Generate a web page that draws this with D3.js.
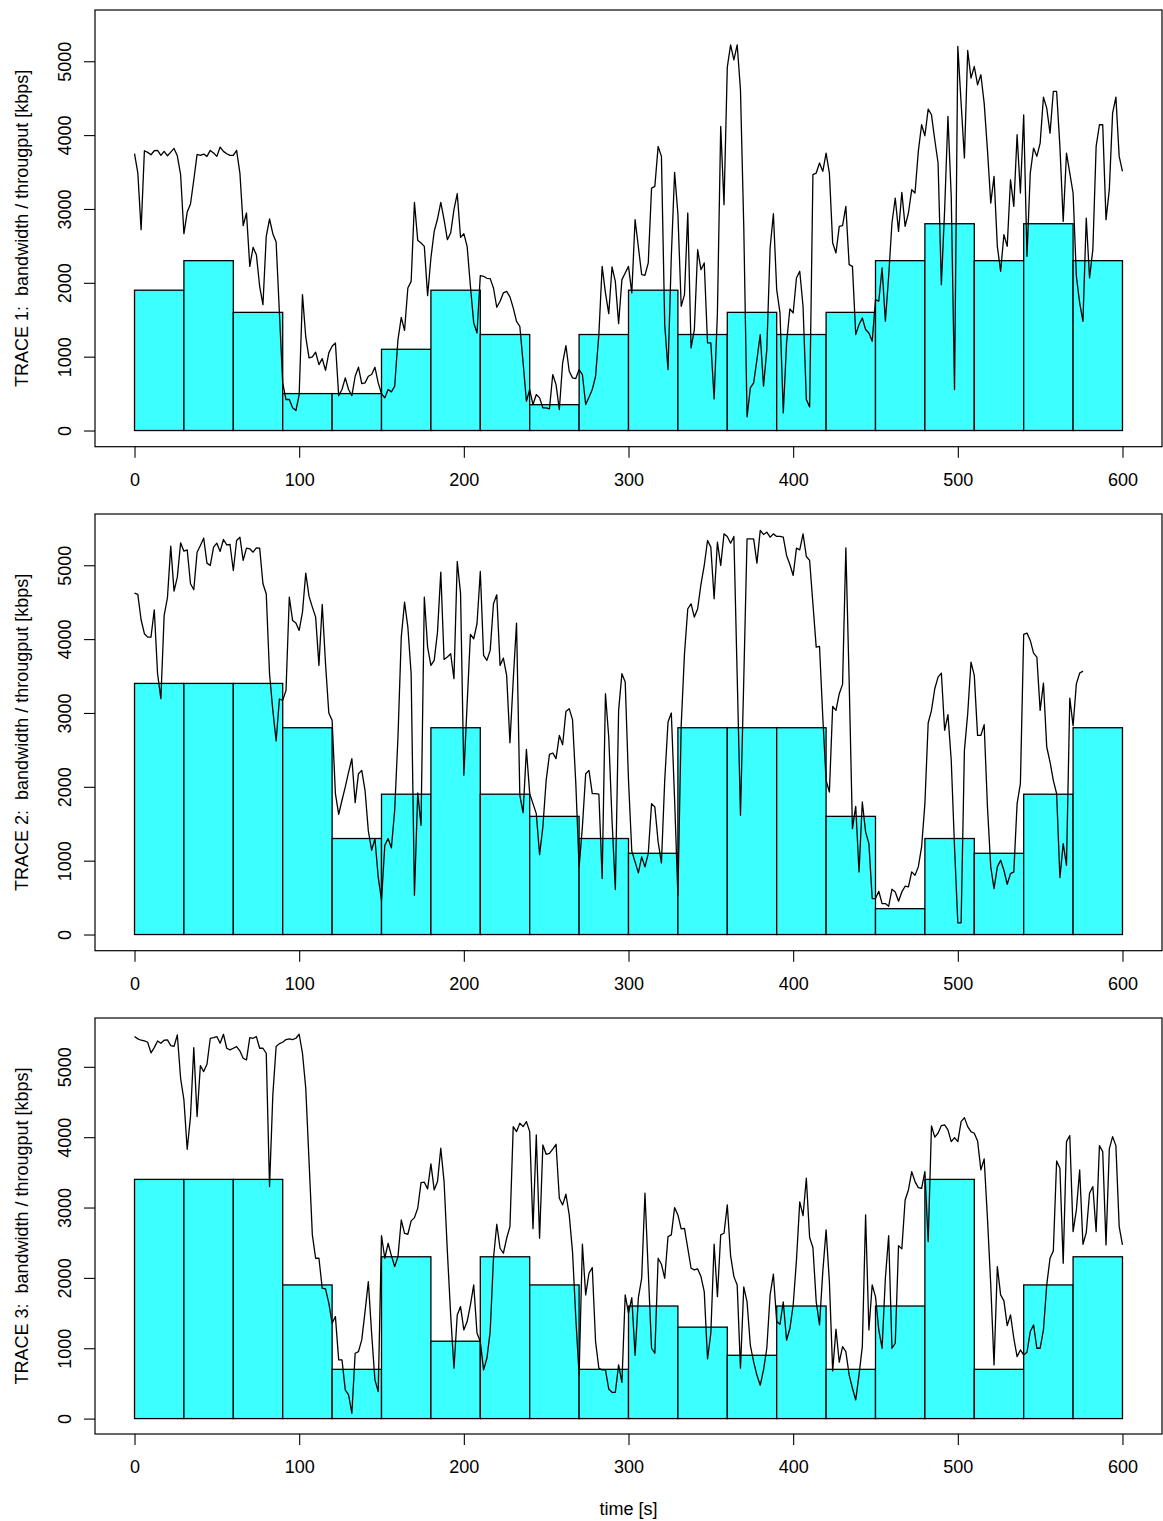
<!DOCTYPE html>
<html><head><meta charset="utf-8">
<script src="https://cdn.jsdelivr.net/npm/d3@7/dist/d3.min.js"></script>
<style>
body{margin:0;background:#fff}
svg{display:block}
text{font-family:"Liberation Sans",Arial,Helvetica,sans-serif;fill:#000}
</style>
</head><body>
<svg id="chart" width="1163" height="1521"></svg>
<script>
// ---------------- DATA ----------------
const segmentStart = [0,30,60,90,120,150,180,210,240,270,300,330,360,390,420,450,480,510,540,570];
const segmentDuration = 30;
const sampleInterval = 2; // seconds between throughput samples

const trace1Bitrate = [1900,2300,1600,500,500,1100,1900,1300,350,1300,1900,1300,1600,1300,1600,2300,2800,2300,2800,2300];
const trace2Bitrate = [3400,3400,3400,2800,1300,1900,2800,1900,1600,1300,1100,2800,2800,2800,1600,350,1300,1100,1900,2800];
const trace3Bitrate = [3400,3400,3400,1900,700,2300,1100,2300,1900,700,1600,1300,900,1600,700,1600,3400,700,1900,2300];

const trace1Throughput = [
3750,3490,2720,3788,3766,3734,3788,3793,3725,3780,
3720,3770,3820,3720,3464,2665,2958,3067,3396,3739,
3725,3743,3712,3793,3757,3712,3838,3780,3748,3725,
3725,3793,3486,2774,2945,2223,2480,2381,1953,1705,
2629,2864,2665,2553,1592,645,420,420,307,270,
487,1840,1267,983,997,1060,893,974,816,1051,
1141,1186,473,555,712,555,473,735,857,636,
645,735,758,857,645,500,442,555,523,600,
1231,1533,1357,1930,2020,3089,2575,2539,2494,1827,
2336,2697,2864,3089,2855,2584,2674,2990,
3207,2616,2665,2494,1953,1457,1321,2097,2088,2061,
2057,1930,1669,1750,1863,1885,1809,1660,1479,1412,
916,397,555,352,487,442,307,307,293,758,
622,284,916,1150,803,713,704,825,758,
352,450,555,735,1299,2223,1863,1583,2214,2020,
1448,2043,2133,2223,1863,2855,2485,2111,2102,2269,
3283,3306,3847,3712,1434,825,2359,3495,2936,1682,
1840,2945,1118,1367,2449,2178,2269,1186,1186,428,
1592,4118,3058,4920,5223,5020,5223,4614,2765,185,
577,645,961,1299,600,1096,2471,2936,1908,1592,
239,1186,1646,1592,2066,2156,
1682,419,320,3464,3486,3622,3509,3757,3486,2539,
2404,2765,2774,3035,2246,2223,1299,1434,1524,1367,
1321,1209,1772,1750,2201,1479,2088,2810,3148,2697,
3225,2765,2945,3261,3216,3779,4140,3991,4352,4275,
3937,3622,1975,2990,4253,3171,555,5200,4433,3689,
5146,4772,4929,4681,4817,
4433,3800,3080,3441,2494,2156,2652,2494,3396,3035,
4005,3216,4275,2359,3486,3824,3712,3892,4514,4366,
4027,4591,4591,3847,2832,3757,3486,3216,2088,1727,
1479,2877,2066,2449,3847,4140,4140,2855,3261,4298,
4514,3712,3509];

const trace2Throughput = [
4623,4605,4262,4073,4027,4027,4397,3531,3193,4321,
4560,5259,4650,4839,5304,5191,5209,4749,4668,5177,
5268,5367,5029,4997,5245,5299,5187,5349,5277,5281,
4929,5335,5380,5065,5232,5223,5177,5236,5232,4749,
4614,3531,3035,2620,3189,3171,3306,4569,4253,4217,
4118,4366,4893,4578,4433,4298,3644,4469,3667,2999,
2900,1908,1628,1818,1998,
2200,2381,1786,2178,2223,1953,1403,1141,1299,776,
465,1209,1299,1173,1682,2674,4027,4501,4163,3531,
532,1917,1479,4569,3892,3644,3712,4095,4907,3725,
3757,3802,3464,
5051,4623,2156,3123,4063,4005,4208,4916,3779,3712,
3847,4478,4600,3644,3743,3509,2597,3450,4217,1885,
1651,2507,1908,1772,1637,1082,1457,2088,2440,2458,
2381,2697,2570,3021,3058,2909,2043,916,1457,2178,
2223,1908,1908,1900,758,3261,2674,1547,609,3035,
3532,3419,2088,1127,983,834,1051,916,1096,1772,
1727,1254,970,2088,2877,2999,1826,532,2832,3802,
4411,4478,4298,4411,4740,4997,5335,5245,4546,5313,
4997,5425,5390,5299,5390,3509,1614,3450,5358,5358,
5358,5029,5471,5417,5448,5380,5425,5390,5390,5380,
5133,5011,4862,5232,5209,
5426,5119,5065,4478,3892,3901,2945,2088,1930,3089,
3035,3261,3387,5236,3441,1434,1736,848,1795,1389,
1231,487,487,586,419,419,383,613,577,451,
577,654,645,848,803,916,1186,1772,2864,3035,
3328,3486,3540,2765,2977,2359,1186,158,158,2494,
2990,3689,3509,2697,2697,2841,1727,916,622,916,
1006,870,681,825,848,1772,2043,4063,4082,3982,
3811,3757,3035,3405,2539,2336,2088,1908,771,1231,
938,3202,2828,3396,3540,3567];

const trace3Throughput = [
5430,5397,5378,5368,5349,5198,5273,5368,5335,5378,
5382,5302,5292,5453,4837,4529,3828,4293,5273,4293,
5018,4932,5037,5406,5416,5430,5335,5463,5264,5240,
5264,5288,5226,5122,5098,5416,5406,5430,5264,5264,
5193,3298,4601,5288,5330,5349,5387,5397,5387,5406,
5463,5193,4695,3653,2611,2279,2279,1853,1843,1640,
1355,1450,834,834,408,337,76,929,952,1118,
1521,1947,1213,550,384,2601,2279,2492,2317,2160,
2302,2823,2634,2620,2810,2857,2990,3355,3360,3265,
3620,3250,3369,3843,3369,2374,1474,716,
1474,1592,1260,1379,1616,1900,1213,1095,692,857,
1237,2279,2762,2421,2350,2563,2729,4150,4079,4198,
4150,4221,4079,2700,4032,2563,3890,3757,3771,3830,
3899,3132,3037,3189,2895,2374,1427,621,2478,1758,
2066,2146,1095,716,692,692,421,374,374,763,
516,1758,1498,1720,900,1720,1995,3203,2090,1000,
929,2279,2194,1995,2587,2611,3000,2895,2696,2705,
2421,2137,2113,2128,2018,1805,848,1213,2478,1734,
2611,2634,3037,2317,2018,1900,716,1871,1658,1042,
805,616,474,692,1000,1758,2052,1379,1341,1658,
1114,1280,1611,2251,3080,
2885,3416,2573,2431,1663,1331,2089,2682,1947,678,
1270,801,1023,952,621,431,265,621,1023,2895,
1260,1900,1734,1260,1000,1995,2601,1000,1071,2459,
2412,3108,3250,3511,3369,3283,3274,3511,2516,4160,
4000,4056,4165,4174,4103,3937,3994,3937,4222,4278,
4150,4079,4056,3947,3535,3691,2848,1900,763,2161,
1758,1673,1322,1474,1142,881,976,905,943,1237,
1331,1000,1000,1260,1900,2279,2383,3662,3558,2208,
3937,4023,2658,2966,3535,2478,2644,3203,3298,2658,
3880,3795,2468,3833,4008,3880,2729,2468];

const traceTitles = ["TRACE 1:  bandwidth / througput [kbps]",
                     "TRACE 2:  bandwidth / througput [kbps]",
                     "TRACE 3:  bandwidth / througput [kbps]"];
const xTicks = [0,100,200,300,400,500,600];
const yTicks = [0,1000,2000,3000,4000,5000];
const xDataRange = [0,600];
const yDataRange = [0,5475];
const xAxisTitle = "time [s]";

// ---------------- LAYOUT ----------------
const plotLeft = 95, plotRight = 1162;
const panels = [
  {top:10,   bottom:446.7, bitrate:trace1Bitrate, tput:trace1Throughput, title:traceTitles[0]},
  {top:514,  bottom:950.7, bitrate:trace2Bitrate, tput:trace2Throughput, title:traceTitles[1]},
  {top:1018, bottom:1434,  bitrate:trace3Bitrate, tput:trace3Throughput, title:traceTitles[2]}
];
const ext = r => { const d = (r[1]-r[0])*0.04; return [r[0]-d, r[1]+d]; };
const FONT = 18;

const svg = d3.select("#chart");
const x = d3.scaleLinear().domain(ext(xDataRange)).range([plotLeft, plotRight]);

panels.forEach(p => {
  const y = d3.scaleLinear().domain(ext(yDataRange)).range([p.bottom, p.top]);
  const g = svg.append("g");

  // bars
  g.append("g").selectAll("rect")
    .data(p.bitrate.map((v,i) => ({start:segmentStart[i], v})))
    .join("rect")
    .attr("x", d => x(d.start))
    .attr("width", d => x(d.start + segmentDuration) - x(d.start))
    .attr("y", d => y(d.v))
    .attr("height", d => y(0) - y(d.v))
    .attr("fill", "#3cffff")
    .attr("stroke", "#000")
    .attr("stroke-width", 1.3);

  // throughput line
  const line = d3.line().x((d,i) => x(i*sampleInterval)).y(d => y(d));
  g.append("path")
    .attr("d", line(p.tput))
    .attr("fill", "none")
    .attr("stroke", "#000")
    .attr("stroke-width", 1.3)
    .attr("stroke-linejoin", "round");

  // box
  g.append("rect")
    .attr("x", plotLeft).attr("y", p.top)
    .attr("width", plotRight - plotLeft).attr("height", p.bottom - p.top)
    .attr("fill", "none").attr("stroke", "#000").attr("stroke-width", 1.2);

  // x axis
  const xa = g.append("g").attr("transform", `translate(0,${p.bottom})`)
    .call(d3.axisBottom(x).tickValues(xTicks).tickSize(11).tickSizeOuter(0).tickFormat(d3.format("d")));
  xa.select(".domain").remove();
  xa.selectAll(".tick line").attr("stroke", "#000").attr("stroke-width", 1.1);
  xa.selectAll(".tick text").attr("y", 33).attr("dy", null)
    .attr("dominant-baseline", "central")
    .style("font-size", FONT + "px").style("font-family", '"Liberation Sans",Arial,sans-serif');

  // y axis
  const ya = g.append("g").attr("transform", `translate(${plotLeft},0)`)
    .call(d3.axisLeft(y).tickValues(yTicks).tickSize(11).tickSizeOuter(0).tickFormat(d3.format("d")));
  ya.select(".domain").remove();
  ya.selectAll(".tick line").attr("stroke", "#000").attr("stroke-width", 1.1);
  ya.selectAll(".tick text")
    .attr("x", null).attr("dy", null)
    .attr("transform", "translate(-30,0) rotate(-90)")
    .attr("text-anchor", "middle")
    .attr("dominant-baseline", "central")
    .style("font-size", FONT + "px").style("font-family", '"Liberation Sans",Arial,sans-serif');

  // y title
  g.append("text")
    .attr("transform", `translate(22,${(p.top + p.bottom)/2}) rotate(-90)`)
    .attr("text-anchor", "middle")
    .attr("dominant-baseline", "central")
    .style("white-space", "pre")
    .style("font-size", FONT + "px")
    .text(p.title);
});

svg.append("text")
  .attr("x", (plotLeft + plotRight)/2).attr("y", 1509)
  .attr("text-anchor", "middle").attr("dominant-baseline", "central")
  .style("font-size", FONT + "px")
  .text(xAxisTitle);
</script>
</body></html>
